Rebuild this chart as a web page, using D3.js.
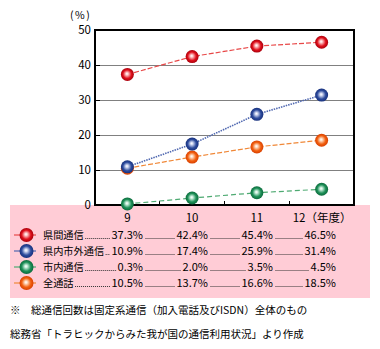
<!DOCTYPE html>
<html><head><meta charset="utf-8">
<script src="https://cdn.jsdelivr.net/npm/d3@7"></script>
<style>
html,body{margin:0;padding:0;background:#fff;}
svg{display:block;font-family:"Noto Sans CJK JP","Noto Sans",sans-serif;}
</style></head>
<body>
<svg id="c" width="380" height="349"></svg>
<script>
const years = ["9","10","11","12"];
const yearSuffix = "（年度）";
const seriesNames = ["県間通信","県内市外通信","市内通信","全通話"];
const kenkan = [37.3,42.4,45.4,46.5];
const kennaiShigai = [10.9,17.4,25.9,31.4];
const shinai = [0.3,2.0,3.5,4.5];
const zentsuwa = [10.5,13.7,16.6,18.5];
const yTicks = [0,10,20,30,40,50];
const unitLabel = "(%)";
const note1 = "※　総通信回数は固定系通信（加入電話及びISDN）全体のもの";
const note2 = "総務省「トラヒックからみた我が国の通信利用状況」より作成";

const series = [
  {name:seriesNames[0], values:kenkan, base:"#e0101c", dark:"#a8000c", light:"#ffd0d0", line:"#e84848", dash:"5,2", w:1.2},
  {name:seriesNames[1], values:kennaiShigai, base:"#2e4c9e", dark:"#17307c", light:"#d8def4", line:"#5068b0", dash:"1.5,1", w:1.6},
  {name:seriesNames[2], values:shinai, base:"#1e9058", dark:"#0c6a3c", light:"#d0f0e0", line:"#4eaa72", dash:"5,3", w:1.2},
  {name:seriesNames[3], values:zentsuwa, base:"#f26010", dark:"#d84000", light:"#ffe0c8", line:"#f08838", dash:"5,2", w:1.2}
];

const svg = d3.select("#c");
const L=95, R=354, T=30, B=205;

svg.append("rect").attr("x",10).attr("y",205).attr("width",360).attr("height",93).attr("fill","#ffccd6");
svg.append("rect").attr("x",L).attr("y",T).attr("width",R-L).attr("height",B-T).attr("fill","#fff");

const defs = svg.append("defs");
series.forEach((s,i)=>{
  const g = defs.append("radialGradient").attr("id","g"+i).attr("cx","50%").attr("cy","50%").attr("r","50%").attr("fx","46%").attr("fy","44%");
  g.append("stop").attr("offset","0%").attr("stop-color","#ffffff");
  g.append("stop").attr("offset","18%").attr("stop-color",s.light);
  g.append("stop").attr("offset","65%").attr("stop-color",s.base);
  g.append("stop").attr("offset","100%").attr("stop-color",s.dark);
});

const x = d3.scaleBand().domain(years).range([L,R]);
const xc = d => x(d)+x.bandwidth()/2;
const y = d3.scaleLinear().domain([0,50]).range([B,T]);

svg.append("g").selectAll("line").data(yTicks.filter(t=>t>0&&t<50)).join("line")
  .attr("x1",L).attr("x2",R).attr("y1",d=>y(d)).attr("y2",d=>y(d))
  .attr("stroke","#808080").attr("stroke-width",1).attr("shape-rendering","crispEdges");

const yAxis = svg.append("g").attr("transform",`translate(${L},0)`)
  .call(d3.axisRight(y).tickValues(yTicks).tickSize(5).tickFormat(""));
yAxis.select(".domain").remove();
yAxis.selectAll("line").attr("stroke","#000").attr("shape-rendering","crispEdges");

svg.append("g").selectAll("text").data(yTicks).join("text")
  .attr("x",L-4).attr("y",d=>y(d)+4).attr("text-anchor","end")
  .attr("font-size",11.5).attr("fill","#000").text(d=>d);

svg.append("g").selectAll("line").data(years.slice(1)).join("line")
  .attr("x1",d=>x(d)).attr("x2",d=>x(d)).attr("y1",B).attr("y2",B-4)
  .attr("stroke","#000").attr("shape-rendering","crispEdges");

svg.append("rect").attr("x",L).attr("y",T).attr("width",R-L).attr("height",B-T)
  .attr("fill","none").attr("stroke","#000").attr("stroke-width",1.3).attr("shape-rendering","crispEdges");

svg.append("text").attr("x",70).attr("y",19).attr("font-size",10.5).attr("letter-spacing",1.5).text(unitLabel);

svg.append("g").selectAll("text").data(years).join("text")
  .attr("x",(d,i)=> i===years.length-1 ? xc(d)-29 : xc(d))
  .attr("y",222).attr("text-anchor",(d,i)=> i===years.length-1 ? "start":"middle")
  .attr("font-size",11.5).text((d,i)=> i===years.length-1 ? d+yearSuffix : d);

const line = d3.line().x((d,i)=>xc(years[i])).y(d=>y(d));
series.forEach((s,i)=>{
  svg.append("path").attr("d",line(s.values)).attr("fill","none")
    .attr("stroke",s.line).attr("stroke-width",s.w).attr("stroke-dasharray",s.dash);
});
[3,2,0,1].forEach(i=>{
  const s=series[i];
  svg.append("g").selectAll("circle").data(s.values).join("circle")
    .attr("cx",(d,j)=>xc(years[j])).attr("cy",d=>y(d)).attr("r",6.5)
    .attr("fill",`url(#g${i})`);
});

const rowY = [235,251,267,283];
const valRight = [143,208,273,336];
series.forEach((s,i)=>{
  const cy=rowY[i];
  svg.append("line").attr("x1",14).attr("x2",36).attr("y1",cy).attr("y2",cy).attr("stroke",s.line).attr("stroke-width",1.2);
  svg.append("circle").attr("cx",26.5).attr("cy",cy).attr("r",7).attr("fill",`url(#g${i})`);
  const lab = svg.append("text").attr("x",43).attr("y",cy+4).attr("font-size",10.2).text(s.name);
  let prevEnd = 43 + lab.node().getComputedTextLength();
  s.values.forEach((v,j)=>{
    const t = svg.append("text").attr("x",valRight[j]).attr("y",cy+4).attr("text-anchor","end")
      .attr("font-size",11).text(v.toFixed(1)+"%");
    const w = t.node().getComputedTextLength();
    const start = valRight[j]-w;
    svg.append("line").attr("x1",prevEnd+1.5).attr("x2",start-1.5).attr("y1",cy+3.5).attr("y2",cy+3.5)
      .attr("stroke","#333").attr("stroke-width",1).attr("stroke-dasharray","1,1");
    prevEnd = valRight[j]+1;
  });
});

svg.append("text").attr("x",10).attr("y",314).attr("font-size",10.5).text(note1);
svg.append("text").attr("x",10).attr("y",338).attr("font-size",10.5).text(note2);
</script>
</body></html>
